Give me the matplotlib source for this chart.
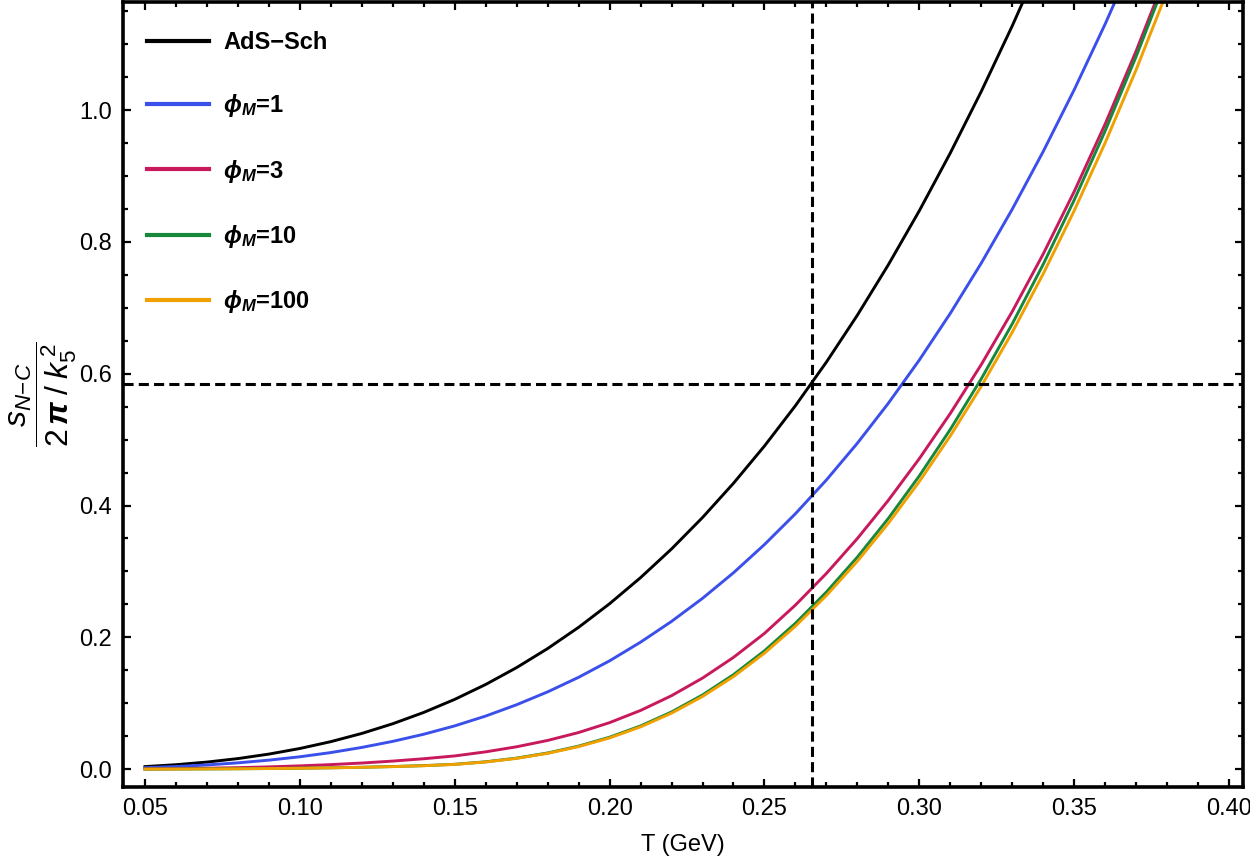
import matplotlib
matplotlib.use("Agg")
import matplotlib.pyplot as plt
from matplotlib.ticker import MultipleLocator, FormatStrFormatter

plt.rcParams['font.family'] = ['Liberation Sans', 'DejaVu Sans']
plt.rcParams['mathtext.fontset'] = 'custom'
plt.rcParams['mathtext.rm'] = 'Liberation Sans'
plt.rcParams['mathtext.it'] = 'Liberation Sans:italic'
plt.rcParams['mathtext.bf'] = 'Liberation Sans:bold:italic'

# Temperature grid (GeV)
T = [0.05, 0.06, 0.07, 0.08, 0.09, 0.10, 0.11, 0.12, 0.13, 0.14, 0.15, 0.16,
     0.17, 0.18, 0.19, 0.20, 0.21, 0.22, 0.23, 0.24, 0.25, 0.26, 0.27, 0.28,
     0.29, 0.30, 0.31, 0.32, 0.33, 0.34, 0.35, 0.36, 0.37, 0.38]

s_ads = [0.00392, 0.00678, 0.01076, 0.01607, 0.02288, 0.03138, 0.04177, 0.05422,
         0.06894, 0.08611, 0.10591, 0.12853, 0.15417, 0.18301, 0.21524, 0.25104,
         0.29061, 0.33414, 0.38180, 0.43380, 0.49031, 0.55153, 0.61765, 0.68885,
         0.76533, 0.84726, 0.93485, 1.02828, 1.12773, 1.23339, 1.34543, 1.46406,
         1.58946, 1.72189]

s_phi1 = [0.0023, 0.0040, 0.0064, 0.0096, 0.0137, 0.0188, 0.0252, 0.0330,
          0.0422, 0.0530, 0.0657, 0.0806, 0.0978, 0.1173, 0.1394, 0.1644,
          0.1927, 0.2242, 0.2592, 0.2980, 0.3408, 0.3876, 0.4388, 0.4946,
          0.5552, 0.6208, 0.6916, 0.7678, 0.8496, 0.9372, 1.0308, 1.1306,
          1.2368, 1.3496]

s_phi3 = [0.00047, 0.00087, 0.00146, 0.00231, 0.00348, 0.00502, 0.00693, 0.00933,
          0.01227, 0.01584, 0.0201, 0.0263, 0.0340, 0.0436, 0.0556, 0.0706,
          0.0891, 0.1115, 0.1382, 0.1696, 0.2060, 0.2490, 0.2970, 0.3500,
          0.4080, 0.4712, 0.5397, 0.6139, 0.6944, 0.7817, 0.8764, 0.9789,
          1.0897, 1.2092]

s_phi10 = [0.00012, 0.00023, 0.00040, 0.00066, 0.00100, 0.00148, 0.00210, 0.00290,
           0.00400, 0.00540, 0.0074, 0.0112, 0.0168, 0.0246, 0.0350, 0.0485,
           0.0656, 0.0868, 0.1126, 0.1434, 0.1796, 0.2214, 0.2688, 0.3218,
           0.3805, 0.4450, 0.5155, 0.5923, 0.6757, 0.7660, 0.8635, 0.9685,
           1.0813, 1.2023]

s_phi100 = [0.00010, 0.00020, 0.00037, 0.00062, 0.00096, 0.00143, 0.00204, 0.00282,
            0.00388, 0.00525, 0.0072, 0.0109, 0.0164, 0.0240, 0.0342, 0.0474,
            0.0642, 0.0850, 0.1103, 0.1405, 0.1760, 0.2170, 0.2635, 0.3155,
            0.3731, 0.4364, 0.5056, 0.5810, 0.6629, 0.7516, 0.8473, 0.9504,
            1.0612, 1.1800]

labels = ['AdS\u2212Sch', r'$\mathbf{\phi_M}$=1', r'$\mathbf{\phi_M}$=3',
          r'$\mathbf{\phi_M}$=10', r'$\mathbf{\phi_M}$=100']
colors = ['#000000', '#3B4FEA', '#C8195C', '#17883A', '#F0A000']

T_ref = 0.2655
s_ref = 0.584

fig = plt.figure(figsize=(12.5, 8.63), dpi=100)
ax = fig.add_axes([0.0984, 0.0881, 0.896, 0.9096])

series = [s_ads, s_phi1, s_phi3, s_phi10, s_phi100]
for ys, c, lab in zip(series, colors, labels):
    ax.plot(T, ys, color=c, lw=2.1, label=lab, solid_joinstyle='round')

ax.axhline(s_ref, color='black', lw=2.2, ls=(0, (3.3, 1.7)))
ax.axvline(T_ref, color='black', lw=2.2, ls=(0, (3.3, 1.7)))

ax.set_xlim(0.0429, 0.4045)
ax.set_ylim(-0.027, 1.164)

ax.xaxis.set_major_locator(MultipleLocator(0.05))
ax.xaxis.set_minor_locator(MultipleLocator(0.01))
ax.yaxis.set_major_locator(MultipleLocator(0.2))
ax.yaxis.set_minor_locator(MultipleLocator(0.05))
ax.xaxis.set_major_formatter(FormatStrFormatter('%.2f'))
ax.yaxis.set_major_formatter(FormatStrFormatter('%.1f'))

ax.tick_params(which='both', direction='in', top=True, right=True,
               labelsize=17, width=1.6)
ax.tick_params(which='major', length=6)
ax.tick_params(which='minor', length=3.5)
ax.tick_params(axis='x', pad=8)
ax.tick_params(axis='y', pad=8)
for sp in ax.spines.values():
    sp.set_linewidth(2.6)

ax.set_xlabel('T (GeV)', fontsize=17, labelpad=10)
ax.set_ylabel(r'$\dfrac{s_{N\!-\!C}}{2\,\mathbf{\pi}\;/\;k_5^{\,2}}$', fontsize=23, labelpad=0)

leg = ax.legend(loc='upper left', bbox_to_anchor=(0.0134, 0.975), frameon=False,
                fontsize=17, handlelength=2.6, handletextpad=0.6,
                labelspacing=1.62, borderaxespad=0)
for t in leg.get_texts():
    t.set_fontweight('bold')
for h in leg.get_lines():
    h.set_linewidth(3.0)

fig.savefig('out.png', dpi=100)
